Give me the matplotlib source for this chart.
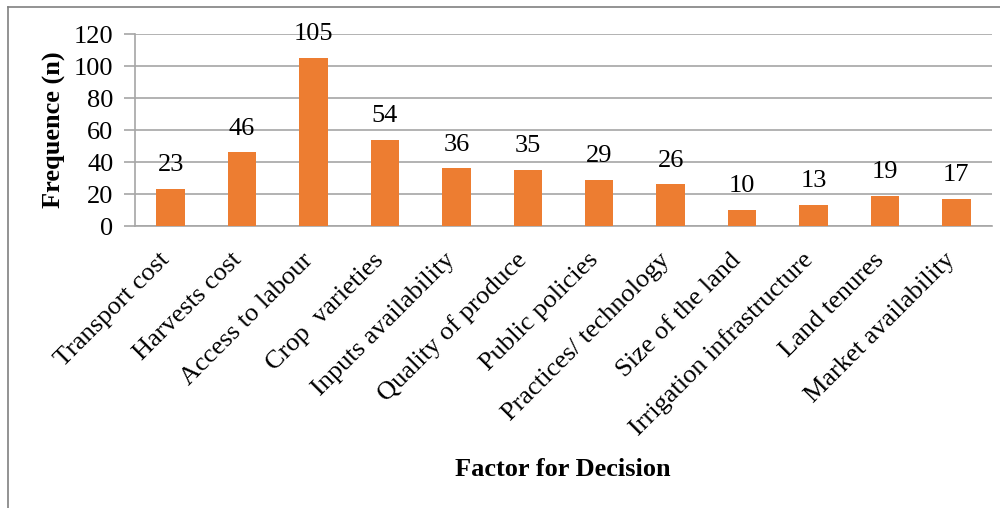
import matplotlib
matplotlib.use('Agg')
import matplotlib.pyplot as plt
import matplotlib.transforms as mtransforms
from matplotlib.lines import Line2D

plt.rcParams['font.family'] = ['Liberation Serif', 'DejaVu Serif']

factors = ['Transport cost', 'Harvests cost', 'Access to labour', 'Crop  varieties',
           'Inputs availability', 'Quality of produce', 'Public policies',
           'Practices/ technology', 'Size of the land', 'Irrigation infrastructure',
           'Land tenures', 'Market availability']
counts = [23, 46, 105, 54, 36, 35, 29, 26, 10, 13, 19, 17]

bar_color = '#ED7D31'
grid_color = '#A6A6A6'

fig = plt.figure(figsize=(10, 5.08), dpi=100)
ax = fig.add_axes([0.135, 0.555, 0.857, 0.378])

x = range(len(factors))
ax.bar(x, counts, width=0.4, color=bar_color, zorder=3)
for xi, v in zip(x, counts):
    ax.text(xi, v + 8, str(v), ha='center', va='bottom', fontsize=19)

ax.set_xlim(-0.5, len(factors) - 0.5)
ax.set_ylim(0, 120)
ax.set_yticks(range(0, 121, 20))
ax.yaxis.grid(True, color=grid_color, linewidth=1.2, zorder=0)
ax.set_axisbelow(True)

ax.set_xticks(list(x))
ax.set_xticklabels(factors, rotation=45, ha='right', va='center',
                   rotation_mode='anchor', fontsize=19)
ax.tick_params(axis='x', length=0, pad=22)
shift = mtransforms.ScaledTranslation(-3 / 72, 0, fig.dpi_scale_trans)
for lbl in ax.get_xticklabels():
    lbl.set_transform(lbl.get_transform() + shift)
ax.tick_params(axis='y', length=8, width=1.2, color=grid_color, labelsize=19, pad=7.5)

for side in ['top', 'right']:
    ax.spines[side].set_visible(False)
for side in ['left', 'bottom']:
    ax.spines[side].set_color(grid_color)
    ax.spines[side].set_linewidth(1.2)

ax.set_ylabel('Frequence (n)', fontsize=19, fontweight='bold', labelpad=6)
fig.text(0.5625, 0.075, 'Factor for Decision', ha='center', va='center',
         fontsize=19, fontweight='bold')

# outer frame (top and left edges)
fig.add_artist(Line2D([0.008, 1.0], [0.986, 0.986], color='#808080', linewidth=1.2))
fig.add_artist(Line2D([0.008, 0.008], [0.0, 0.986], color='#808080', linewidth=1.2))

fig.savefig('out.png', dpi=100)
